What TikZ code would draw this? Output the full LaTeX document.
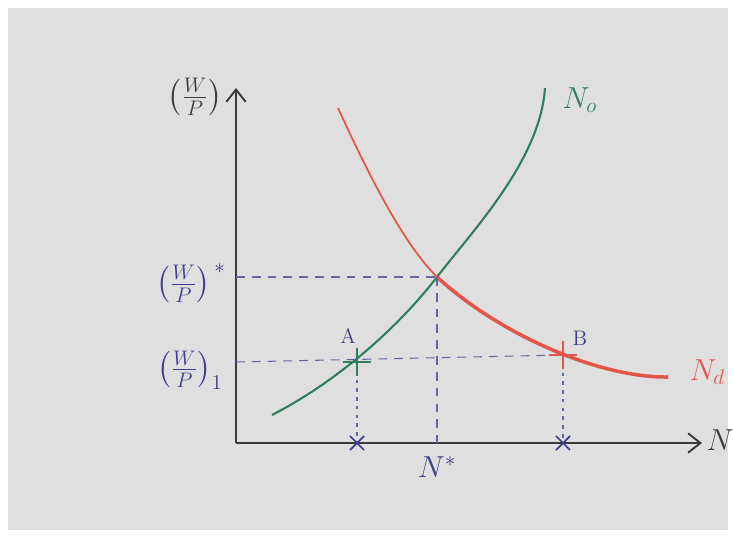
\documentclass[tikz,border=0pt]{standalone}
\usepackage{amsmath}
\usetikzlibrary{arrows.meta,shapes.misc}

\definecolor{paper}{RGB}{222,223,222}
\definecolor{ink}{RGB}{62,62,140}
\definecolor{offer}{RGB}{44,128,92}
\definecolor{demand}{RGB}{226,86,74}
\definecolor{pencil}{RGB}{58,58,60}

\tikzset{every picture/.style={line width=0.75pt}}
\tikzset{
  axisline/.style={pencil, line width=1.1pt, -{Straight Barb[length=7pt,width=11pt,line width=1.1pt]}},
  guide/.style={ink!80, line width=0.6pt, dash pattern={on 5pt off 4pt}},
  dotguide/.style={ink!80, line width=0.6pt, dash pattern={on 2pt off 3pt}},
  tick/.style={draw=ink, cross out, line width=1pt, minimum size=7pt, inner sep=0pt},
  pointmark/.style={draw=#1, cross out, rotate=45, line width=1.3pt, minimum size=10pt, inner sep=0pt},
  lbl/.style={font=\LARGE}
}

\begin{document}
\begin{tikzpicture}[x=0.02cm, y=-0.02cm]
    \useasboundingbox (0,0) rectangle (733,540);
    \fill[white] (0,0) rectangle (733,540);
    \fill[paper] (8,8) rectangle (728,530);

    % axes
    \coordinate (O) at (236,443);
    \coordinate (ytop) at (236,88);
    \coordinate (xend) at (702,443);
    \draw[axisline] (O) -- (ytop);
    \draw[axisline] (O) -- (xend);
    \node[lbl, pencil, anchor=west] (Nax) at (700,440) {$N$};
    \node[lbl, pencil] (wpax) at (195,97) {$\left(\frac{W}{P}\right)$};

    % key points
    \coordinate (E) at (437,277);
    \coordinate (A) at (357,362);
    \coordinate (B) at (563,355);

    % supply curve
    \draw[offer, line width=1.2pt] (272,415) .. controls (340,380) and (400,325) .. (E)
        .. controls (474,229) and (540,160) .. (545,88);
    \node[lbl, offer, anchor=west] (No) at (556,100) {$N_o$};

    % demand curve
    \draw[demand, line width=1pt] (338,108) .. controls (380,200) and (410,250) .. (E);
    \draw[demand, line width=2pt] (E) .. controls (500,335) and (600,378) .. (668,377);
    \node[lbl, demand, anchor=west] (Nd) at (683,372) {$N_d$};

    % guides to the axes
    \coordinate (Ey) at (O |- E);
    \coordinate (Ex) at (O -| E);
    \coordinate (Ay) at (O |- A);
    \coordinate (Ax) at (O -| A);
    \coordinate (Bx) at (O -| B);
    \draw[guide] (Ey) -- (E);
    \draw[guide] (E) -- (Ex);
    \draw[guide] (Ay) -- (B);
    \draw[dotguide] (A) -- (Ax);
    \draw[dotguide] (B) -- (Bx);

    % marks
    \node[pointmark=offer] (mA) at (A) {};
    \node[pointmark=demand] (mB) at (B) {};
    \node[tick] (tA) at (Ax) {};
    \node[tick] (tB) at (Bx) {};

    % labels
    \node[lbl, ink] (wpstar) at (191,283) {$\left(\frac{W}{P}\right)^{\,*}$};
    \node[lbl, ink] (wpone) at (190,370) {$\left(\frac{W}{P}\right)_{1}$};
    \node[lbl, ink, below=4pt] (Nstar) at (Ex) {$N^*$};
    \node[font=\large, ink] (lA) at (348,336) {A};
    \node[font=\large, ink] (lB) at (580,338) {B};
\end{tikzpicture}
\end{document}
